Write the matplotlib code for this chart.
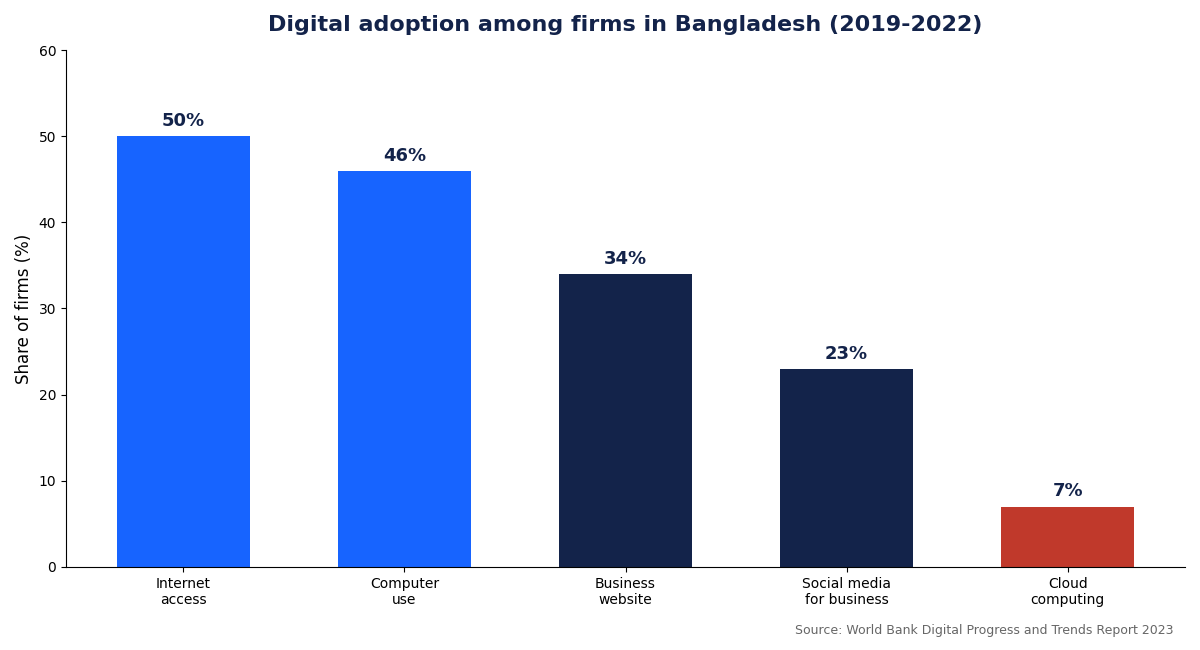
import matplotlib.pyplot as plt
import numpy as np

categories = ['Internet\naccess', 'Computer\nuse', 'Business\nwebsite',
              'Social media\nfor business', 'Cloud\ncomputing']
values = [50, 46, 34, 23, 7]
colors = ['#1764FF', '#1764FF', '#13234A', '#13234A', '#C0392B']
navy = '#13234A'

fig = plt.figure(figsize=(12, 6.5), dpi=100)
ax = fig.add_axes([0.055, 0.128, 0.9325, 0.795])

x = np.arange(len(categories))
bars = ax.bar(x, values, width=0.6, color=colors)

for xi, v in zip(x, values):
    ax.text(xi, v + 0.7, f'{v}%', ha='center', va='bottom',
            fontsize=13, fontweight='bold', color=navy)

ax.set_xticks(x)
ax.set_xticklabels(categories, fontsize=10)
ax.set_xlim(-0.53, 4.53)
ax.set_ylim(0, 60)
ax.set_yticks(range(0, 61, 10))
ax.set_ylabel('Share of firms (%)', fontsize=12)
ax.spines['top'].set_visible(False)
ax.spines['right'].set_visible(False)

ax.set_title('Digital adoption among firms in Bangladesh (2019-2022)',
             fontsize=16, fontweight='bold', color=navy, pad=14)
fig.text(0.978, 0.03, 'Source: World Bank Digital Progress and Trends Report 2023',
         ha='right', va='center', fontsize=9, color='#666666')

plt.savefig('out.png')
